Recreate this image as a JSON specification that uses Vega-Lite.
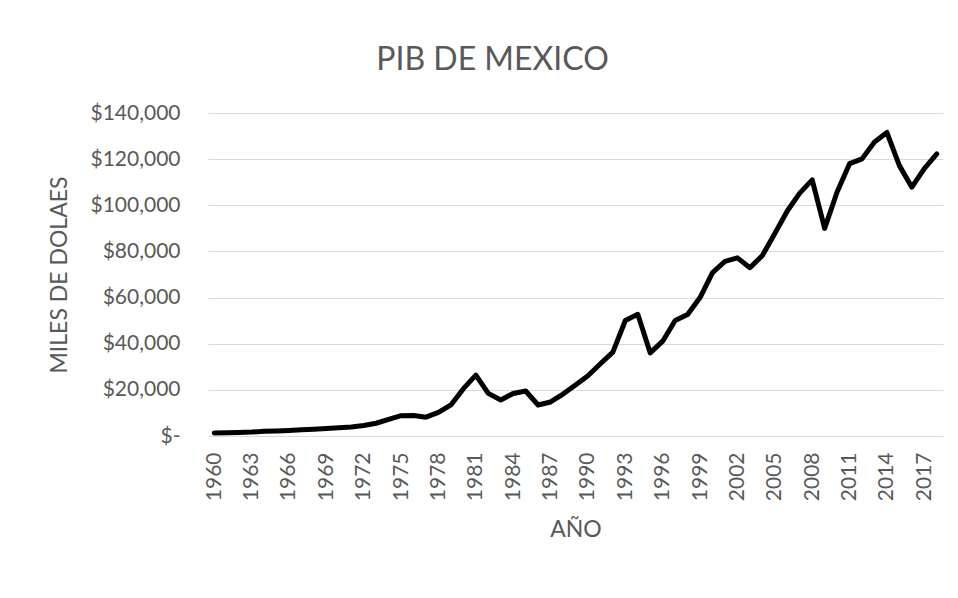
{
  "$schema": "https://vega.github.io/schema/vega-lite/v6.json",
  "autosize": "none",
  "width": 735,
  "height": 323,
  "padding": {"left": 208, "top": 113, "right": 15, "bottom": 162},
  "background": "white",
  "title": {
    "text": "PIB DE MEXICO",
    "font": "Lato",
    "fontSize": 32,
    "fontWeight": "normal",
    "color": "#595959",
    "anchor": "middle",
    "frame": "group",
    "dx": -83,
    "dy": 30,
    "baseline": "alphabetic",
    "offset": 30
  },
  "data": {
    "values": [
      {"year": 1960, "pib": 1304}, {"year": 1961, "pib": 1416}, {"year": 1962, "pib": 1520},
      {"year": 1963, "pib": 1696}, {"year": 1964, "pib": 2008}, {"year": 1965, "pib": 2184},
      {"year": 1966, "pib": 2436}, {"year": 1967, "pib": 2656}, {"year": 1968, "pib": 2936},
      {"year": 1969, "pib": 3248}, {"year": 1970, "pib": 3554}, {"year": 1971, "pib": 3920},
      {"year": 1972, "pib": 4520}, {"year": 1973, "pib": 5530}, {"year": 1974, "pib": 7200},
      {"year": 1975, "pib": 8800}, {"year": 1976, "pib": 8900}, {"year": 1977, "pib": 8170},
      {"year": 1978, "pib": 10220}, {"year": 1979, "pib": 13450}, {"year": 1980, "pib": 20510},
      {"year": 1981, "pib": 26396}, {"year": 1982, "pib": 18460}, {"year": 1983, "pib": 15620},
      {"year": 1984, "pib": 18430}, {"year": 1985, "pib": 19520}, {"year": 1986, "pib": 13450},
      {"year": 1987, "pib": 14750}, {"year": 1988, "pib": 18160}, {"year": 1989, "pib": 22140},
      {"year": 1990, "pib": 26125}, {"year": 1991, "pib": 31310}, {"year": 1992, "pib": 36320},
      {"year": 1993, "pib": 50070}, {"year": 1994, "pib": 52730}, {"year": 1995, "pib": 36010},
      {"year": 1996, "pib": 41097}, {"year": 1997, "pib": 50040}, {"year": 1998, "pib": 52650},
      {"year": 1999, "pib": 60020}, {"year": 2000, "pib": 70790}, {"year": 2001, "pib": 75670},
      {"year": 2002, "pib": 77210}, {"year": 2003, "pib": 72930}, {"year": 2004, "pib": 78220},
      {"year": 2005, "pib": 87750}, {"year": 2006, "pib": 97540}, {"year": 2007, "pib": 105270},
      {"year": 2008, "pib": 110999}, {"year": 2009, "pib": 90005}, {"year": 2010, "pib": 105780},
      {"year": 2011, "pib": 118050}, {"year": 2012, "pib": 120110}, {"year": 2013, "pib": 127440},
      {"year": 2014, "pib": 131540}, {"year": 2015, "pib": 117190}, {"year": 2016, "pib": 107850},
      {"year": 2017, "pib": 115890}, {"year": 2018, "pib": 122240}
    ]
  },
  "mark": {"type": "line", "color": "black", "strokeWidth": 5, "strokeCap": "round", "strokeJoin": "round"},
  "encoding": {
    "x": {
      "field": "year",
      "type": "ordinal",
      "scale": {"type": "point", "padding": 0.5},
      "axis": {
        "title": "AÑO",
        "values": [1960, 1963, 1966, 1969, 1972, 1975, 1978, 1981, 1984, 1987, 1990, 1993, 1996, 1999, 2002, 2005, 2008, 2011, 2014, 2017],
        "labelAngle": -90,
        "labelPadding": 16,
        "ticks": false,
        "domain": true,
        "domainColor": "#d9d9d9",
        "domainWidth": 1,
        "grid": false,
        "titlePadding": 18
      }
    },
    "y": {
      "field": "pib",
      "type": "quantitative",
      "scale": {"domain": [0, 140000], "nice": false},
      "axis": {
        "title": "MILES DE DOLAES",
        "values": [0, 20000, 40000, 60000, 80000, 100000, 120000, 140000],
        "labelExpr": "datum.value == 0 ? '$-\u00a0\u00a0' : '$' + format(datum.value, ',')",
        "labelPadding": 28,
        "ticks": false,
        "domain": false,
        "grid": true,
        "gridColor": "#d9d9d9",
        "gridWidth": 1,
        "titlePadding": 18
      }
    }
  },
  "config": {
    "view": {"stroke": null},
    "axis": {
      "labelFont": "Lato",
      "labelFontSize": 21,
      "labelColor": "#595959",
      "titleFont": "Lato",
      "titleFontSize": 23,
      "titleFontWeight": "normal",
      "titleColor": "#595959"
    }
  }
}
